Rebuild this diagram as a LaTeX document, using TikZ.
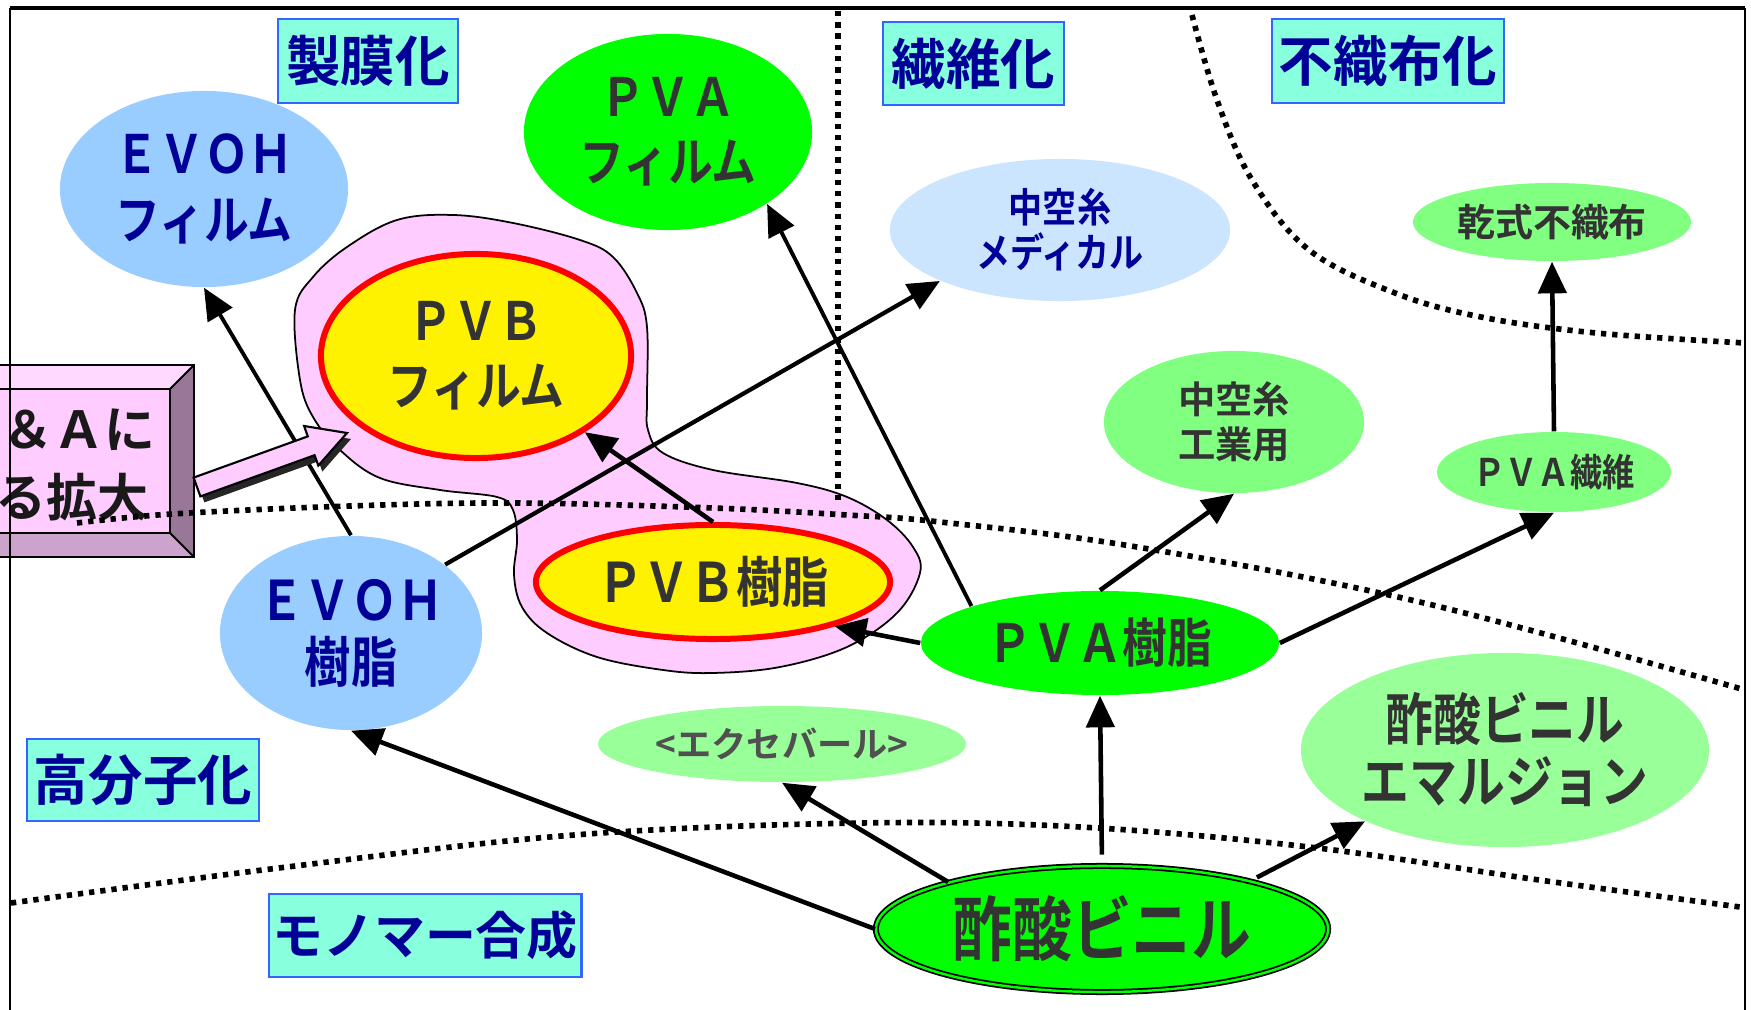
\documentclass[tikz,border=0pt]{standalone}
\usepackage{fontspec}
\newfontfamily\jp{Noto Sans CJK JP Bold}
\newfontfamily\jpc{Noto Sans CJK JP Bold}[FakeStretch=0.85]
\usetikzlibrary{shapes.geometric,arrows.meta}
\definecolor{navy}{RGB}{0,0,153}
\definecolor{txtgray}{RGB}{51,51,51}
\definecolor{excgray}{RGB}{80,80,80}
\definecolor{boxfill}{RGB}{136,255,221}
\definecolor{boxline}{RGB}{51,102,255}
\definecolor{evohblue}{RGB}{153,204,255}
\definecolor{medblue}{RGB}{204,229,255}
\definecolor{bgreen}{RGB}{0,255,0}
\definecolor{lgreen}{RGB}{128,255,128}
\definecolor{pgreen}{RGB}{153,255,153}
\definecolor{pinkfill}{RGB}{255,204,255}
\definecolor{pinklight}{RGB}{255,217,255}
\definecolor{bevright}{RGB}{153,119,153}
\definecolor{bevbottom}{RGB}{204,163,204}
\tikzset{
  sect/.style={draw=boxline, line width=0.8pt, fill=boxfill, text=navy, inner sep=0pt,
    font=\jp\fontsize{15.5}{18}\selectfont},
  ell/.style={ellipse, inner sep=0pt, align=center},
  redell/.style={ell, draw=red, line width=1.7pt, fill=yellow, text=txtgray},
  arr/.style={line width=1.3pt, -{Triangle[length=9pt,width=8pt]}},
  dotl/.style={line width=1.6pt, dash pattern=on 1.5pt off 1.7pt},
}
\begin{document}
\begin{tikzpicture}[x=0.01cm,y=-0.01cm]
\useasboundingbox (0,0) rectangle (1751,1010);
\clip (0,0) rectangle (1751,1010);

% pink blob
\draw[fill=pinkfill, line width=0.5pt] plot[smooth cycle, tension=0.6] coordinates {
 (295,310) (300,380) (313,417) (340,450) (380,478) (440,490) (497,497) (513,510)
 (517,540) (514,575) (522,607) (547,633) (597,657) (663,670) (713,673) (780,667)
 (847,647) (897,613) (920,573) (913,547) (887,520) (847,497) (797,483) (713,470)
 (663,453) (648,430) (647,400) (647,327) (637,293) (613,257) (580,240) (513,223)
 (453,215) (397,220) (347,247) (313,277)};

% ellipses
\node[ell, fill=evohblue, text=navy, minimum width=2.88cm, minimum height=1.96cm,
  font=\jpc\fontsize{15}{19}\selectfont] (evohf) at (204,189) {ＥＶＯＨ\\フィルム};
\node[ell, fill=bgreen, text=txtgray, minimum width=2.88cm, minimum height=1.96cm,
  font=\jpc\fontsize{15}{18.5}\selectfont] (pvaf) at (668,132) {ＰＶＡ\\フィルム};
\node[redell, minimum width=3.10cm, minimum height=2.04cm,
  font=\jpc\fontsize{15}{18.5}\selectfont] (pvbf) at (476,356) {ＰＶＢ\\フィルム};
\node[ell, fill=medblue, text=navy, minimum width=3.40cm, minimum height=1.42cm,
  font=\jpc\fontsize{11.4}{12.8}\selectfont] (med) at (1060,230) {中空糸\\メディカル};
\node[ell, fill=lgreen, text=txtgray, minimum width=2.78cm, minimum height=0.78cm,
  font=\jp\fontsize{10.8}{12}\selectfont] (kanshiki) at (1552,222) {乾式不織布};
\node[ell, fill=lgreen, text=txtgray, minimum width=2.60cm, minimum height=1.42cm,
  font=\jp\fontsize{10.6}{12.8}\selectfont] (hfi) at (1234,422) {中空糸\\工業用};
\node[ell, fill=lgreen, text=txtgray, minimum width=2.34cm, minimum height=0.80cm,
  font=\jpc\fontsize{10.8}{12}\selectfont] (pvafib) at (1554,472) {ＰＶＡ繊維};
\node[ell, fill=evohblue, text=navy, minimum width=2.58cm, minimum height=1.94cm,
  font=\jpc\fontsize{15.5}{17.6}\selectfont] (evohr) at (351,633) {ＥＶＯＨ\\樹脂};
\node[redell, minimum width=3.54cm, minimum height=1.14cm,
  font=\jpc\fontsize{15.5}{17}\selectfont] (pvbr) at (713,582) {ＰＶＢ樹脂};
\node[ell, fill=bgreen, text=txtgray, minimum width=3.58cm, minimum height=1.04cm,
  font=\jpc\fontsize{15}{17}\selectfont] (pvar) at (1100,643) {ＰＶＡ樹脂};
\node[ell, fill=pgreen, text=excgray, minimum width=3.68cm, minimum height=0.76cm,
  font=\jp\fontsize{10}{12}\selectfont] (exc) at (782,744) {<エクセバール>};
\node[ell, fill=pgreen, text=txtgray, minimum width=4.08cm, minimum height=1.94cm,
  font=\jpc\fontsize{16}{17.6}\selectfont] (emul) at (1505,750) {酢酸ビニル\\エマルジョン};
\node[ell, fill=bgreen, draw=black, line width=0.5pt, double=bgreen, double distance=0.7pt,
  text=txtgray, minimum width=4.52cm, minimum height=1.26cm,
  font=\jpc\fontsize{20}{22}\selectfont] (vac) at (1102,929) {酢酸ビニル};

% section labels
\node[sect, minimum width=1.80cm, minimum height=0.84cm] (s1) at (368,61) {製膜化};
\node[sect, minimum width=1.81cm, minimum height=0.83cm] (s2) at (973.5,63.5) {繊維化};
\node[sect, minimum width=2.32cm, minimum height=0.84cm] (s3) at (1388,61) {不織布化};
\node[sect, minimum width=2.32cm, minimum height=0.82cm] (s4) at (143,780) {高分子化};
\node[sect, minimum width=3.12cm, minimum height=0.83cm,
  font=\jp\fontsize{14.5}{17}\selectfont] (s5) at (425,935.5) {モノマー合成};

% bevel box
\fill[pinkfill] (-10,389) rectangle (170,533);
\fill[pinklight] (-10,365) -- (194,365) -- (170,389) -- (-10,389) -- cycle;
\fill[bevright] (194,365) -- (194,557) -- (170,533) -- (170,389) -- cycle;
\fill[bevbottom] (-10,557) -- (194,557) -- (170,533) -- (-10,533) -- cycle;
\draw[line width=0.6pt] (-10,365) rectangle (194,557);
\draw[line width=0.6pt] (-10,389) rectangle (170,533);
\draw[line width=0.6pt] (170,389) -- (194,365) (170,533) -- (194,557);
\node[anchor=west, inner sep=0pt, text=black!90, font=\jp\fontsize{14.5}{17}\selectfont]
  (mna1) at (2,430) {＆Ａに};
\node[anchor=west, inner sep=0pt, text=black!90, font=\jp\fontsize{14.5}{17}\selectfont]
  (mna2) at (-5,497) {る拡大};

% dotted separators
\draw[dotl] (838,11) -- (838,505);
\draw[dotl] plot[smooth, tension=0.6] coordinates {(77,523) (172,514) (350,506) (517,503)
  (713,508) (847,515) (940,522) (1137,547) (1424,603) (1745,690)};
\draw[dotl] plot[smooth, tension=0.6] coordinates {(1192,15) (1217,100) (1252,180) (1309,250)
  (1395,293) (1481,317) (1596,333) (1745,343)};
\draw[dotl] plot[smooth, tension=0.6] coordinates {(11,903) (287,867) (574,835) (861,823)
  (1080,827) (1309,847) (1539,880) (1740,907)};

% arrows
\draw[arr] (vac.west) -- (evohr.south);
\draw[arr] (vac.163) -- (exc.south);
\draw[arr, shorten <=3pt] (vac.north) -- (pvar.south);
\draw[arr, shorten <=2pt] (vac.18) -- (emul.207);
\draw[arr] (pvar.west) -- (pvbr.-20);
\draw[arr] (pvar.north) -- (hfi.south);
\draw[arr] (pvar.east) -- (pvafib.south);
\draw[arr, line width=1.1pt] (pvar.164) -- (pvaf.-36);
\draw[arr, line width=1.2pt] (evohr.36) -- (med.203);
\draw[arr, line width=1.1pt] (evohr.north) -- (evohf.south);
\draw[arr] (pvbr.north) -- (pvbf.-35);
\draw[arr] (pvafib.north) -- (kanshiki.south);

% block arrow (M&A -> PVB film)
\fill[black!85] ([shift={(4,6)}]200.4,496.4) -- ([shift={(4,6)}]193.6,477.6) -- ([shift={(4,6)}]307.8,436.4)
  -- ([shift={(4,6)}]304.1,426.0) -- ([shift={(4,6)}]347,433) -- ([shift={(4,6)}]318.3,465.6)
  -- ([shift={(4,6)}]314.6,455.2) -- cycle;
\draw[fill=pinkfill, line width=0.6pt] (200.4,496.4) -- (193.6,477.6) -- (307.8,436.4)
  -- (304.1,426.0) -- (347,433) -- (318.3,465.6) -- (314.6,455.2) -- cycle;

% frame
\draw[line width=0.5pt] (10,1020) -- (10,8);
\draw[line width=0.9pt] (10,8) -- (1745,8);
\draw[line width=0.6pt] (1745,8) -- (1745,1020);
\end{tikzpicture}
\end{document}
